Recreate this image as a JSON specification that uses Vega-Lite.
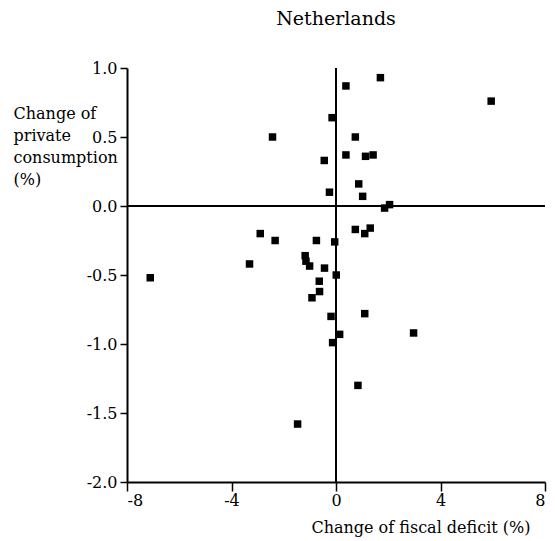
{
  "$schema": "https://vega.github.io/schema/vega-lite/v6.json",
  "width": 418,
  "height": 414,
  "autosize": {"type": "none"},
  "padding": {"left": 127, "top": 68, "right": 10, "bottom": 59},
  "background": "white",
  "title": {
    "text": "Netherlands",
    "anchor": "middle",
    "frame": "group",
    "baseline": "alphabetic",
    "offset": 16
  },
  "config": {
    "view": {"stroke": null},
    "title": {
      "font": "DejaVu Serif",
      "fontSize": 19,
      "fontWeight": "normal",
      "color": "black"
    },
    "axis": {
      "domainColor": "black",
      "domainWidth": 2,
      "tickColor": "black",
      "tickWidth": 1.5,
      "grid": false,
      "labelFont": "DejaVu Serif",
      "labelFontSize": 16,
      "labelColor": "black",
      "titleFont": "DejaVu Serif",
      "titleFontSize": 16,
      "titleFontWeight": "normal",
      "titleColor": "black"
    }
  },
  "data": {
    "values": [
      {"deficit": -2.43, "consumption": 0.50},
      {"deficit": -0.15, "consumption": 0.64},
      {"deficit": 0.38, "consumption": 0.87},
      {"deficit": -0.45, "consumption": 0.33},
      {"deficit": 0.38, "consumption": 0.37},
      {"deficit": -0.25, "consumption": 0.10},
      {"deficit": -2.90, "consumption": -0.20},
      {"deficit": -2.33, "consumption": -0.25},
      {"deficit": -0.75, "consumption": -0.25},
      {"deficit": -0.05, "consumption": -0.26},
      {"deficit": 1.70, "consumption": 0.93},
      {"deficit": 5.94, "consumption": 0.76},
      {"deficit": 0.74, "consumption": 0.50},
      {"deficit": 1.13, "consumption": 0.36},
      {"deficit": 1.42, "consumption": 0.37},
      {"deficit": 0.87, "consumption": 0.16},
      {"deficit": 1.02, "consumption": 0.07},
      {"deficit": 1.86, "consumption": -0.015},
      {"deficit": 2.05, "consumption": 0.01},
      {"deficit": 0.74, "consumption": -0.17},
      {"deficit": 1.10, "consumption": -0.20},
      {"deficit": 1.31, "consumption": -0.16},
      {"deficit": -7.11, "consumption": -0.52},
      {"deficit": -3.31, "consumption": -0.42},
      {"deficit": -1.18, "consumption": -0.36},
      {"deficit": -1.15, "consumption": -0.40},
      {"deficit": -1.01, "consumption": -0.435},
      {"deficit": -0.44, "consumption": -0.45},
      {"deficit": 0.01, "consumption": -0.50},
      {"deficit": -0.64, "consumption": -0.545},
      {"deficit": -0.63, "consumption": -0.62},
      {"deficit": -0.92, "consumption": -0.665},
      {"deficit": -0.19, "consumption": -0.80},
      {"deficit": 0.14, "consumption": -0.93},
      {"deficit": -0.13, "consumption": -0.99},
      {"deficit": 1.10, "consumption": -0.78},
      {"deficit": 2.97, "consumption": -0.92},
      {"deficit": 0.84, "consumption": -1.30},
      {"deficit": -1.47, "consumption": -1.58}
    ]
  },
  "layer": [
    {
      "mark": {"type": "rule", "color": "black", "strokeWidth": 1.5},
      "encoding": {"y": {"datum": 0, "type": "quantitative", "scale": {"domain": [-2, 1], "nice": false}}}
    },
    {
      "mark": {"type": "rule", "color": "black", "strokeWidth": 1.5},
      "encoding": {"x": {"datum": 0, "type": "quantitative", "scale": {"domain": [-8, 8], "nice": false}}}
    },
    {
      "mark": {"type": "point", "shape": "square", "filled": true, "color": "black", "opacity": 1, "size": 56},
      "encoding": {
        "x": {
          "field": "deficit",
          "type": "quantitative",
          "scale": {"domain": [-8, 8], "nice": false, "zero": false},
          "axis": {
            "values": [-8, -4, 0, 4, 8],
            "labelExpr": "replace(format(datum.value, 'd'), '−', '-')",
            "tickSize": 9,
            "labelPadding": 1,
            "title": "Change of fiscal deficit (%)",
            "titleAlign": "right",
            "titleAnchor": "end",
            "titleBaseline": "alphabetic",
            "titleX": 403,
            "titleY": 50
          }
        },
        "y": {
          "field": "consumption",
          "type": "quantitative",
          "scale": {"domain": [-2, 1], "nice": false, "zero": false},
          "axis": {
            "values": [-2, -1.5, -1, -0.5, 0, 0.5, 1],
            "labelExpr": "replace(format(datum.value, '.1f'), '−', '-')",
            "tickSize": 7,
            "labelPadding": 3,
            "title": ["Change of", "private", "consumption", "(%)"],
            "titleAngle": 0,
            "titleAlign": "left",
            "titleBaseline": "alphabetic",
            "titleLineHeight": 22,
            "titleX": -114,
            "titleY": 50
          }
        }
      }
    }
  ]
}
